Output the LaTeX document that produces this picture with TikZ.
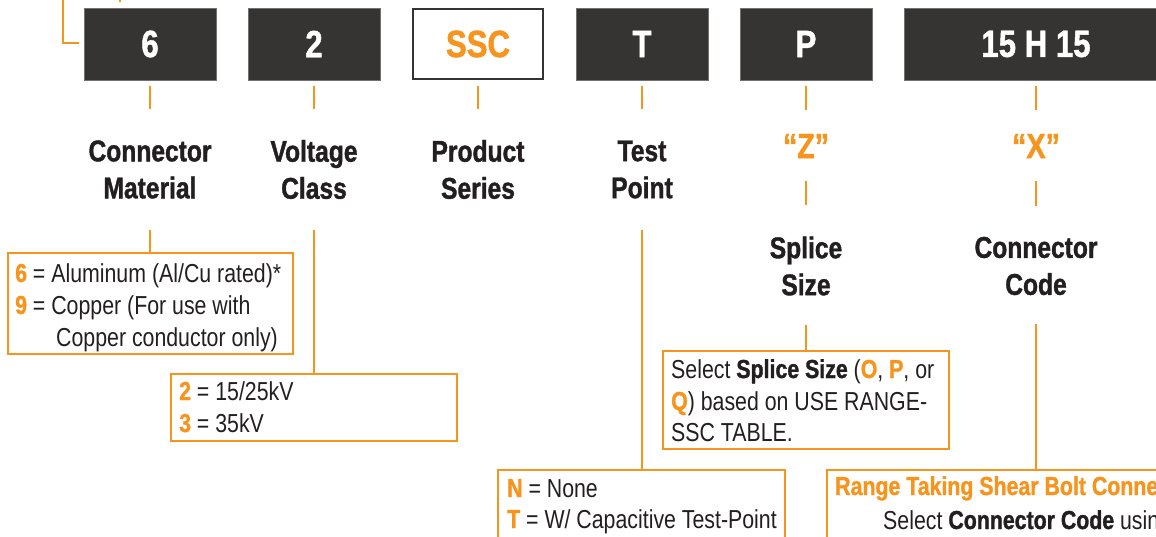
\documentclass[tikz,border=0pt]{standalone}
\usepackage{fontspec}
\setmainfont[FakeStretch=0.82, BoldFeatures={FakeStretch=0.82, FakeBold=1.2}]{Liberation Sans}
\definecolor{orng}{HTML}{F7941D}
\definecolor{dbox}{HTML}{353432}
\definecolor{ink}{HTML}{231F20}
\newcommand\onum[1]{{\bfseries\color{orng}#1}}
\tikzset{
  codebox/.style={fill=dbox, draw=dbox!70!white, line width=0.6pt, minimum width=132pt, minimum height=72pt, inner sep=0pt, text=white, font=\fontsize{38}{38}\selectfont\bfseries},
  ssbox/.style={fill=white, draw=dbox, line width=1.6pt, minimum width=130pt, minimum height=70pt, inner sep=0pt, text=orng, font=\fontsize{38}{38}\selectfont\bfseries},
  lbl/.style={font=\fontsize{30}{37}\selectfont\bfseries, text=ink, align=center, inner sep=0pt},
  qlbl/.style={font=\fontsize{35}{35}\selectfont\bfseries, text=orng, inner sep=0pt},
  tick/.style={draw=orng, line width=2pt},
  desc/.style={draw=orng, line width=2pt, inner sep=0pt, fill=none},
  txt/.style={font=\fontsize{26}{32}\selectfont, text=ink, inner sep=0pt, anchor=base west}
}
\begin{document}
\begin{tikzpicture}[x=1pt,y=-1pt]
\useasboundingbox (0,0) rectangle (1156,536);
% top code boxes
\node[codebox] (b1) at (150,44) {6};
\node[codebox] (b2) at (314,44) {2};
\node[ssbox] (b3) at (478,44) {SSC};
\node[codebox] (b4) at (642,44) {T};
\node[codebox] (b5) at (806,44) {P};
\node[codebox, minimum width=264pt] (b6) at (1036,44) {15 H 15};
% top-left bracket
\coordinate (tl0) at (63,-2);
\coordinate (tl1) at (63,43);
\coordinate (tl2) at (79,43);
\draw[tick] (tl0) -- (tl1) -- (tl2);
\coordinate (tm0) at (120,-2);
\coordinate (tm1) at (120,2);
\draw[tick] (tm0) -- (tm1);
% labels
\node[lbl] (l1) at (150,169.5) {Connector\\Material};
\node[lbl] (l2) at (314,169.5) {Voltage\\Class};
\node[lbl] (l3) at (478,169.5) {Product\\Series};
\node[lbl] (l4) at (642,169.5) {Test\\Point};
\node[qlbl] (qz) at (806,146) {“Z”};
\node[qlbl] (qx) at (1036,146) {“X”};
\node[lbl] (l5) at (806,266) {Splice\\Size};
\node[lbl] (l6) at (1036,266) {Connector\\Code};
% ticks
\draw[tick, shorten <=6pt, shorten >=31pt] (b1.south) -- (l1.north);
\draw[tick, shorten <=6pt, shorten >=31pt] (b2.south) -- (l2.north);
\draw[tick, shorten <=6pt, shorten >=31pt] (b3.south) -- (l3.north);
\draw[tick, shorten <=6pt, shorten >=31pt] (b4.south) -- (l4.north);
\draw[tick, shorten <=6pt, shorten >=24pt] (b5.south) -- (qz.north);
\draw[tick, shorten <=6pt, shorten >=24pt] (b6.south) -- (qx.north);
\draw[tick, shorten <=23pt, shorten >=31pt] (qz.south) -- (l5.north);
\draw[tick, shorten <=23pt, shorten >=31pt] (qx.south) -- (l6.north);
% description boxes
\node[desc, minimum width=285pt, minimum height=101pt] (dA) at (150.5,303.5) {};
\node[desc, minimum width=286pt, minimum height=67pt] (dB) at (314,407.5) {};
\node[desc, minimum width=287pt, minimum height=100pt] (dC) at (641.5,520) {};
\node[desc, minimum width=286pt, minimum height=98pt] (dD) at (806,400) {};
\node[desc, minimum width=373pt, minimum height=140pt] (dE) at (1013.5,540) {};
% connectors from labels to boxes
\draw[tick, shorten <=31pt] (l1.south) -- (l1.south |- dA.north);
\draw[tick, shorten <=31pt] (l2.south) -- (l2.south |- dB.north);
\draw[tick, shorten <=31pt] (l4.south) -- (l4.south |- dC.north);
\draw[tick, shorten <=29pt] (l5.south) -- (l5.south |- dD.north);
\draw[tick, shorten <=29pt] (l6.south) -- (l6.south |- dE.north);
% texts
\node[txt] (a1) at (15,282) {\onum{6} = Aluminum (Al/Cu rated)*};
\node[txt] (a2) at (15,314) {\onum{9} = Copper (For use with};
\node[txt] (a3) at (56,346) {Copper conductor only)};
\node[txt] (v1) at (179,400) {\onum{2} = 15/25kV};
\node[txt] (v2) at (179,432) {\onum{3} = 35kV};
\node[txt] (t1) at (507,497) {\onum{N} = None};
\node[txt] (t2) at (507,528) {\onum{T} = W/ Capacitive Test-Point};
\node[txt] (s1) at (671,378) {Select \textbf{Splice Size} (\onum{O}, \onum{P}, or};
\node[txt] (s2) at (671,410) {\onum{Q}) based on USE RANGE-};
\node[txt] (s3) at (671,441) {SSC TABLE.};
\node[txt] (r1) at (835,495) {\onum{Range Taking Shear Bolt Conne}};
\node[txt] (r2) at (883,529) {Select \textbf{Connector Code} using};
\end{tikzpicture}
\end{document}
